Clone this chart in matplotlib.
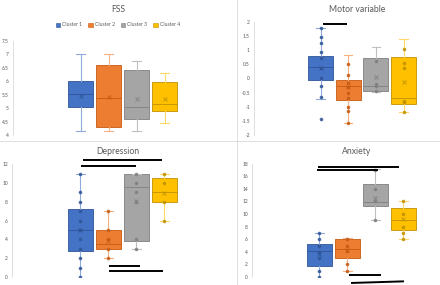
import matplotlib.pyplot as plt
from matplotlib.patches import Patch

W, H = 440, 285

clusters = ["Cluster 1", "Cluster 2", "Cluster 3", "Cluster 4"]
fill_colors = ["#4472C4", "#ED7D31", "#A5A5A5", "#FFC000"]
edge_colors = ["#2F5597", "#C55A11", "#7F7F7F", "#BF9000"]
whisker_colors = ["#8FAADC", "#F4B183", "#BFBFBF", "#FFD966"]

# FSS
fss_whislo = [4.16, 4.16, 4.16, 4.44]
fss_q1 = [5.05, 4.31, 4.61, 4.88]
fss_med = [5.51, 5.39, 5.03, 5.17]
fss_q3 = [6.02, 6.59, 6.41, 5.96]
fss_whishi = [7.0, 7.0, 6.74, 6.32]
fss_mean = [5.46, 5.42, 5.33, 5.33]
fss_points = [[], [], [], []]

# Motor variable
mot_whislo = [-0.73, -1.57, -0.47, -1.2]
mot_q1 = [-0.06, -0.77, -0.44, -0.91]
mot_med = [0.41, -0.27, -0.26, -0.71]
mot_q3 = [0.80, -0.06, 0.73, 0.76]
mot_whishi = [1.77, 0.82, 1.12, 1.38]
mot_mean = [0.35, -0.30, 0.06, -0.12]
mot_points = [[1.77, 1.47, 1.26, 0.94, 0.71, 0.35, 0.0, -0.27, -0.65, -1.44],
              [0.51, 0.12, -0.18, -0.3, -0.53, -0.69, -1.02, -1.14, -1.57],
              [0.61, -0.2, -0.27, -0.44],
              [1.02, 0.53, 0.35, -0.79, -0.85, -1.2]]

# Depression
dep_whislo = [0, 2, 3, 6]
dep_q1 = [2.73, 3.02, 3.8, 7.99]
dep_med = [5.04, 3.48, 9.58, 9.05]
dep_q3 = [7.28, 5.04, 11.0, 10.54]
dep_whishi = [11.0, 7.0, 11.0, 11.0]
dep_mean = [4.97, 3.83, 8.06, 8.98]
dep_points = [[11, 9, 8, 7, 6, 5, 4, 3, 2, 1, 0],
              [7, 5, 4, 3, 2],
              [11, 10, 9, 8, 4, 3],
              [11, 10, 8, 6]]

# Anxiety
anx_whislo = [0, 1, 9, 6]
anx_q1 = [1.75, 3.02, 11.28, 7.52]
anx_med = [4.08, 4.5, 11.96, 9.0]
anx_q3 = [5.29, 5.98, 14.77, 10.96]
anx_whishi = [7, 6.2, 17.2, 12]
anx_mean = [3.7, 4.34, 12.55, 9.26]
anx_points = [[7, 6, 5, 4, 3, 1, 0],
              [6, 5, 4.2, 2, 1],
              [17, 14, 12, 9],
              [12, 10, 8, 7, 6]]

# significance bars: (x start, x end, y start, y end) in cluster units
mot_bars = [(0.09, 0.96, 1.92, 1.92)]
dep_bars = [(0.1, 2.92, 12.5, 12.5), (0.03, 1.99, 11.86, 11.86),
            (1.03, 2.14, 1.17, 1.17), (1.03, 2.96, 0.64, 0.64)]
anx_bars = [(-0.05, 2.85, 17.52, 17.52), (-0.08, 2.1, 17.05, 17.05),
            (1.06, 2.2, 0.37, 0.37), (1.13, 3.02, -0.95, -0.69)]

plt.rcParams['font.family'] = ['Lato', 'DejaVu Sans']
fig = plt.figure(figsize=(W / 100, H / 100), dpi=100)

# panel dividers
fig.add_artist(plt.Line2D([237 / W, 237 / W], [0, 1], color="#D9D9D9", lw=0.6))
fig.add_artist(plt.Line2D([0, 1], [1 - 141 / H, 1 - 141 / H], color="#D9D9D9", lw=0.6))


def panel(left, right, top, bottom, c0, step, ylo, yhi, yticks, title, tx, ty,
          whislo, q1, med, q3, whishi, mean, points, bars):
    ax = fig.add_axes([left / W, 1 - bottom / H, (right - left) / W, (bottom - top) / H])
    ax.set_xlim((left - c0) / step, (right - c0) / step)
    ax.set_ylim(ylo, yhi)
    stats = []
    for i in range(4):
        stats.append(dict(whislo=whislo[i], q1=q1[i], med=med[i], q3=q3[i],
                          whishi=whishi[i], mean=mean[i], fliers=[]))
    bp = ax.bxp(stats, positions=range(4), widths=0.9, capwidths=0.3,
                patch_artist=True, showmeans=True)
    for i in range(4):
        bp['boxes'][i].set(facecolor=fill_colors[i], edgecolor=edge_colors[i], lw=0.6)
        bp['medians'][i].set(color=edge_colors[i], lw=0.6)
        for k in (2 * i, 2 * i + 1):
            bp['whiskers'][k].set(color=whisker_colors[i], lw=0.8)
            bp['caps'][k].set(color=whisker_colors[i], lw=0.8)
        bp['means'][i].set(marker="x", markersize=3.5, markeredgecolor=edge_colors[i],
                           markeredgewidth=0.6)
        if points[i]:
            ax.plot([i] * len(points[i]), points[i], "o", ms=1.6,
                    color=edge_colors[i], alpha=0.8, zorder=4)
    for x0, x1, y0, y1 in bars:
        ax.plot([x0, x1], [y0, y1], color="black", lw=1.4, clip_on=False,
                solid_capstyle="butt", zorder=5)
    ax.set_yticks(yticks)
    ax.set_yticklabels([f"{t:g}" for t in yticks])
    ax.tick_params(axis="y", length=0, labelsize=3.5, labelcolor="#595959", pad=3)
    ax.set_xticks([])
    for s in ("top", "right", "bottom"):
        ax.spines[s].set_visible(False)
    ax.spines["left"].set_color("#D9D9D9")
    ax.spines["left"].set_linewidth(0.6)
    ax.patch.set_alpha(0)
    fig.text(tx / W, 1 - ty / H, title, ha="center", va="center",
             fontsize=6.2, color="#595959")
    return ax


panel(13, 230, 41, 135, 80.5, 28, 4, 7.5, [4 + 0.5 * k for k in range(8)],
      "FSS", 118, 10, fss_whislo, fss_q1, fss_med, fss_q3, fss_whishi, fss_mean,
      fss_points, [])
panel(254, 440, 21.7, 135, 320.5, 27.7, -2, 2, [-2 + 0.5 * k for k in range(9)],
      "Motor variable", 357, 10, mot_whislo, mot_q1, mot_med, mot_q3, mot_whishi,
      mot_mean, mot_points, mot_bars)
panel(12, 230, 164.3, 277, 80.3, 28, 0, 12, list(range(0, 13, 2)),
      "Depression", 118, 152, dep_whislo, dep_q1, dep_med, dep_q3, dep_whishi,
      dep_mean, dep_points, dep_bars)
panel(252, 440, 163.7, 277, 319.4, 28, 0, 18, list(range(0, 19, 2)),
      "Anxiety", 357, 152, anx_whislo, anx_q1, anx_med, anx_q3, anx_whishi,
      anx_mean, anx_points, anx_bars)

handles = [Patch(facecolor=fill_colors[i], edgecolor=edge_colors[i], lw=0.4)
           for i in range(4)]
fig.legend(handles, clusters, loc="center", bbox_to_anchor=(118 / W, 1 - 25 / H),
           ncol=4, frameon=False, fontsize=3.6, handlelength=0.9, handleheight=0.9,
           handletextpad=0.4, columnspacing=1.2, labelcolor="#595959")

fig.savefig("out.png", dpi=100)
